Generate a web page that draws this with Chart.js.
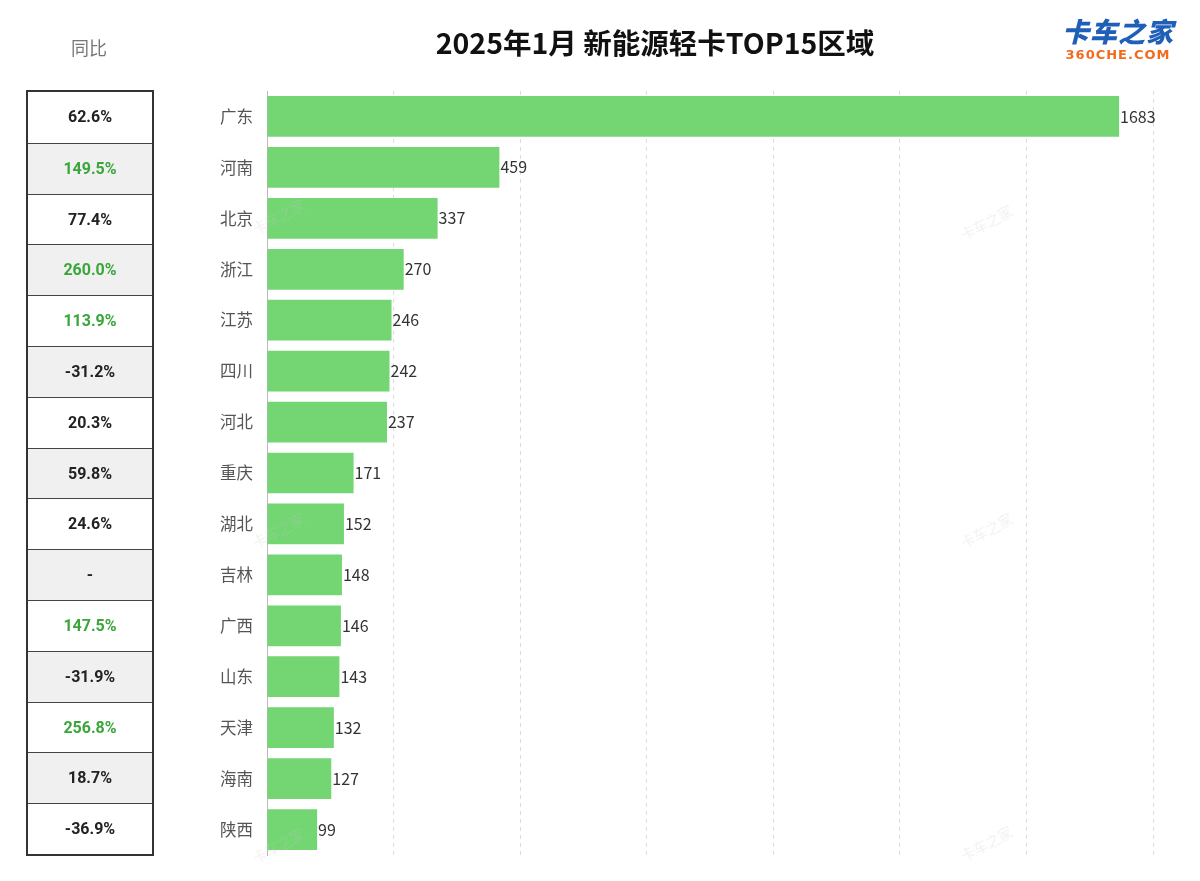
<!DOCTYPE html>
<html>
<head>
<meta charset="utf-8">
<script src="https://cdn.jsdelivr.net/npm/chart.js@4.4.1/dist/chart.umd.min.js"></script>
<style>
  body { margin: 0; width: 1200px; height: 881px; background: #fff; position: relative; overflow: hidden; font-family: "Noto Sans CJK SC", "Noto Sans", sans-serif; }
  #chartBox { position: absolute; left: 0; top: 0; width: 1200px; height: 881px; }
  #title { position: absolute; left: 355px; width: 600px; top: 22px; text-align: center; font-size: 28.5px; font-weight: bold; color: #111; line-height: 40px; }
  #yoyHead { position: absolute; left: 26px; width: 126px; top: 34px; text-align: center; font-size: 18px; color: #777; }
  #yoy { position: absolute; left: 26px; top: 90px; width: 124px; border: 2px solid #333; }
  #yoy div { box-sizing: border-box; height: 50.8px; line-height: 49px; border-top: 1.5px solid #444; text-align: center; font-family: Roboto, sans-serif; font-weight: bold; font-size: 16px; color: #222; }
  #yoy div:first-child { border-top: none; }
  #yoy div:nth-child(even) { background: #f0f0f0; }
  #yoy div.up { color: #3aa63a; }
  #logo { position: absolute; left: 1060px; top: 14px; width: 116px; text-align: center; }
  #logo .cn { font-size: 27px; font-weight: 900; font-style: italic; color: #1f5fb8; letter-spacing: 1px; line-height: 34px; }
  #logo .en { font-family: "DejaVu Sans", sans-serif; font-size: 13px; font-weight: bold; color: #f26b1d; letter-spacing: 1px; line-height: 14px; }
  .wm { position: absolute; width: 80px; text-align: center; font-size: 14px; color: rgba(200,200,200,0.25); transform: translate(-50%, -50%) rotate(-28deg); white-space: nowrap; pointer-events: none; }
</style>
</head>
<body>
<div id="chartBox"><canvas id="regionChart" width="1200" height="881"></canvas></div>
<div id="title">2025年1月 新能源轻卡TOP15区域</div>
<div id="yoyHead">同比</div>
<div id="yoy"></div>
<div id="logo"><div class="cn">卡车之家</div><div class="en">360CHE.COM</div></div>
<div class="wm" style="left:278px;top:216px">卡车之家</div>
<div class="wm" style="left:986px;top:222px">卡车之家</div>
<div class="wm" style="left:278px;top:530px">卡车之家</div>
<div class="wm" style="left:986px;top:530px">卡车之家</div>
<div class="wm" style="left:278px;top:845px">卡车之家</div>
<div class="wm" style="left:986px;top:843px">卡车之家</div>
<script>
const regions = ['广东', '河南', '北京', '浙江', '江苏', '四川', '河北', '重庆', '湖北', '吉林', '广西', '山东', '天津', '海南', '陕西'];
const sales = [1683, 459, 337, 270, 246, 242, 237, 171, 152, 148, 146, 143, 132, 127, 99];
const yoyText = ['62.6%', '149.5%', '77.4%', '260.0%', '113.9%', '-31.2%', '20.3%', '59.8%', '24.6%', '-', '147.5%', '-31.9%', '256.8%', '18.7%', '-36.9%'];

// 同比表格
const table = document.getElementById('yoy');
yoyText.forEach(t => {
  const row = document.createElement('div');
  row.textContent = t;
  if (parseFloat(t) > 100) row.className = 'up';
  table.appendChild(row);
});

// 数值标签
const valueLabels = {
  id: 'valueLabels',
  afterDatasetsDraw(chart) {
    const ctx = chart.ctx;
    const meta = chart.getDatasetMeta(0);
    ctx.save();
    ctx.font = '16px "Noto Sans CJK SC", sans-serif';
    ctx.fillStyle = '#333';
    ctx.textAlign = 'left';
    ctx.textBaseline = 'middle';
    meta.data.forEach((bar, i) => {
      ctx.fillText(String(sales[i]), bar.x + 1, bar.y);
    });
    ctx.restore();
  }
};

const ctx = document.getElementById('regionChart').getContext('2d');
new Chart(ctx, {
  type: 'bar',
  data: {
    labels: regions,
    datasets: [{
      data: sales,
      backgroundColor: '#73d673',
      borderWidth: 0,
      categoryPercentage: 0.8,
      barPercentage: 1.0
    }]
  },
  options: {
    indexAxis: 'y',
    responsive: false,
    animation: false,
    layout: { padding: { top: 91, bottom: 26, right: 47, left: 0 } },
    plugins: { legend: { display: false }, tooltip: { enabled: false } },
    scales: {
      x: {
        min: 0, max: 1750,
        ticks: { stepSize: 250, display: false },
        border: { display: false, dash: [4, 4] },
        grid: { color: '#dcdcdc', drawTicks: false, lineWidth: 1 }
      },
      y: {
        afterFit(scale) { scale.width = 267; },
        ticks: { color: '#555', padding: 14, font: { size: 16.5, family: '"Noto Sans CJK SC", sans-serif' } },
        grid: { display: false, drawTicks: false },
        border: { display: true, color: '#bbb', width: 1 }
      }
    }
  },
  plugins: [valueLabels]
});
</script>
</body>
</html>
